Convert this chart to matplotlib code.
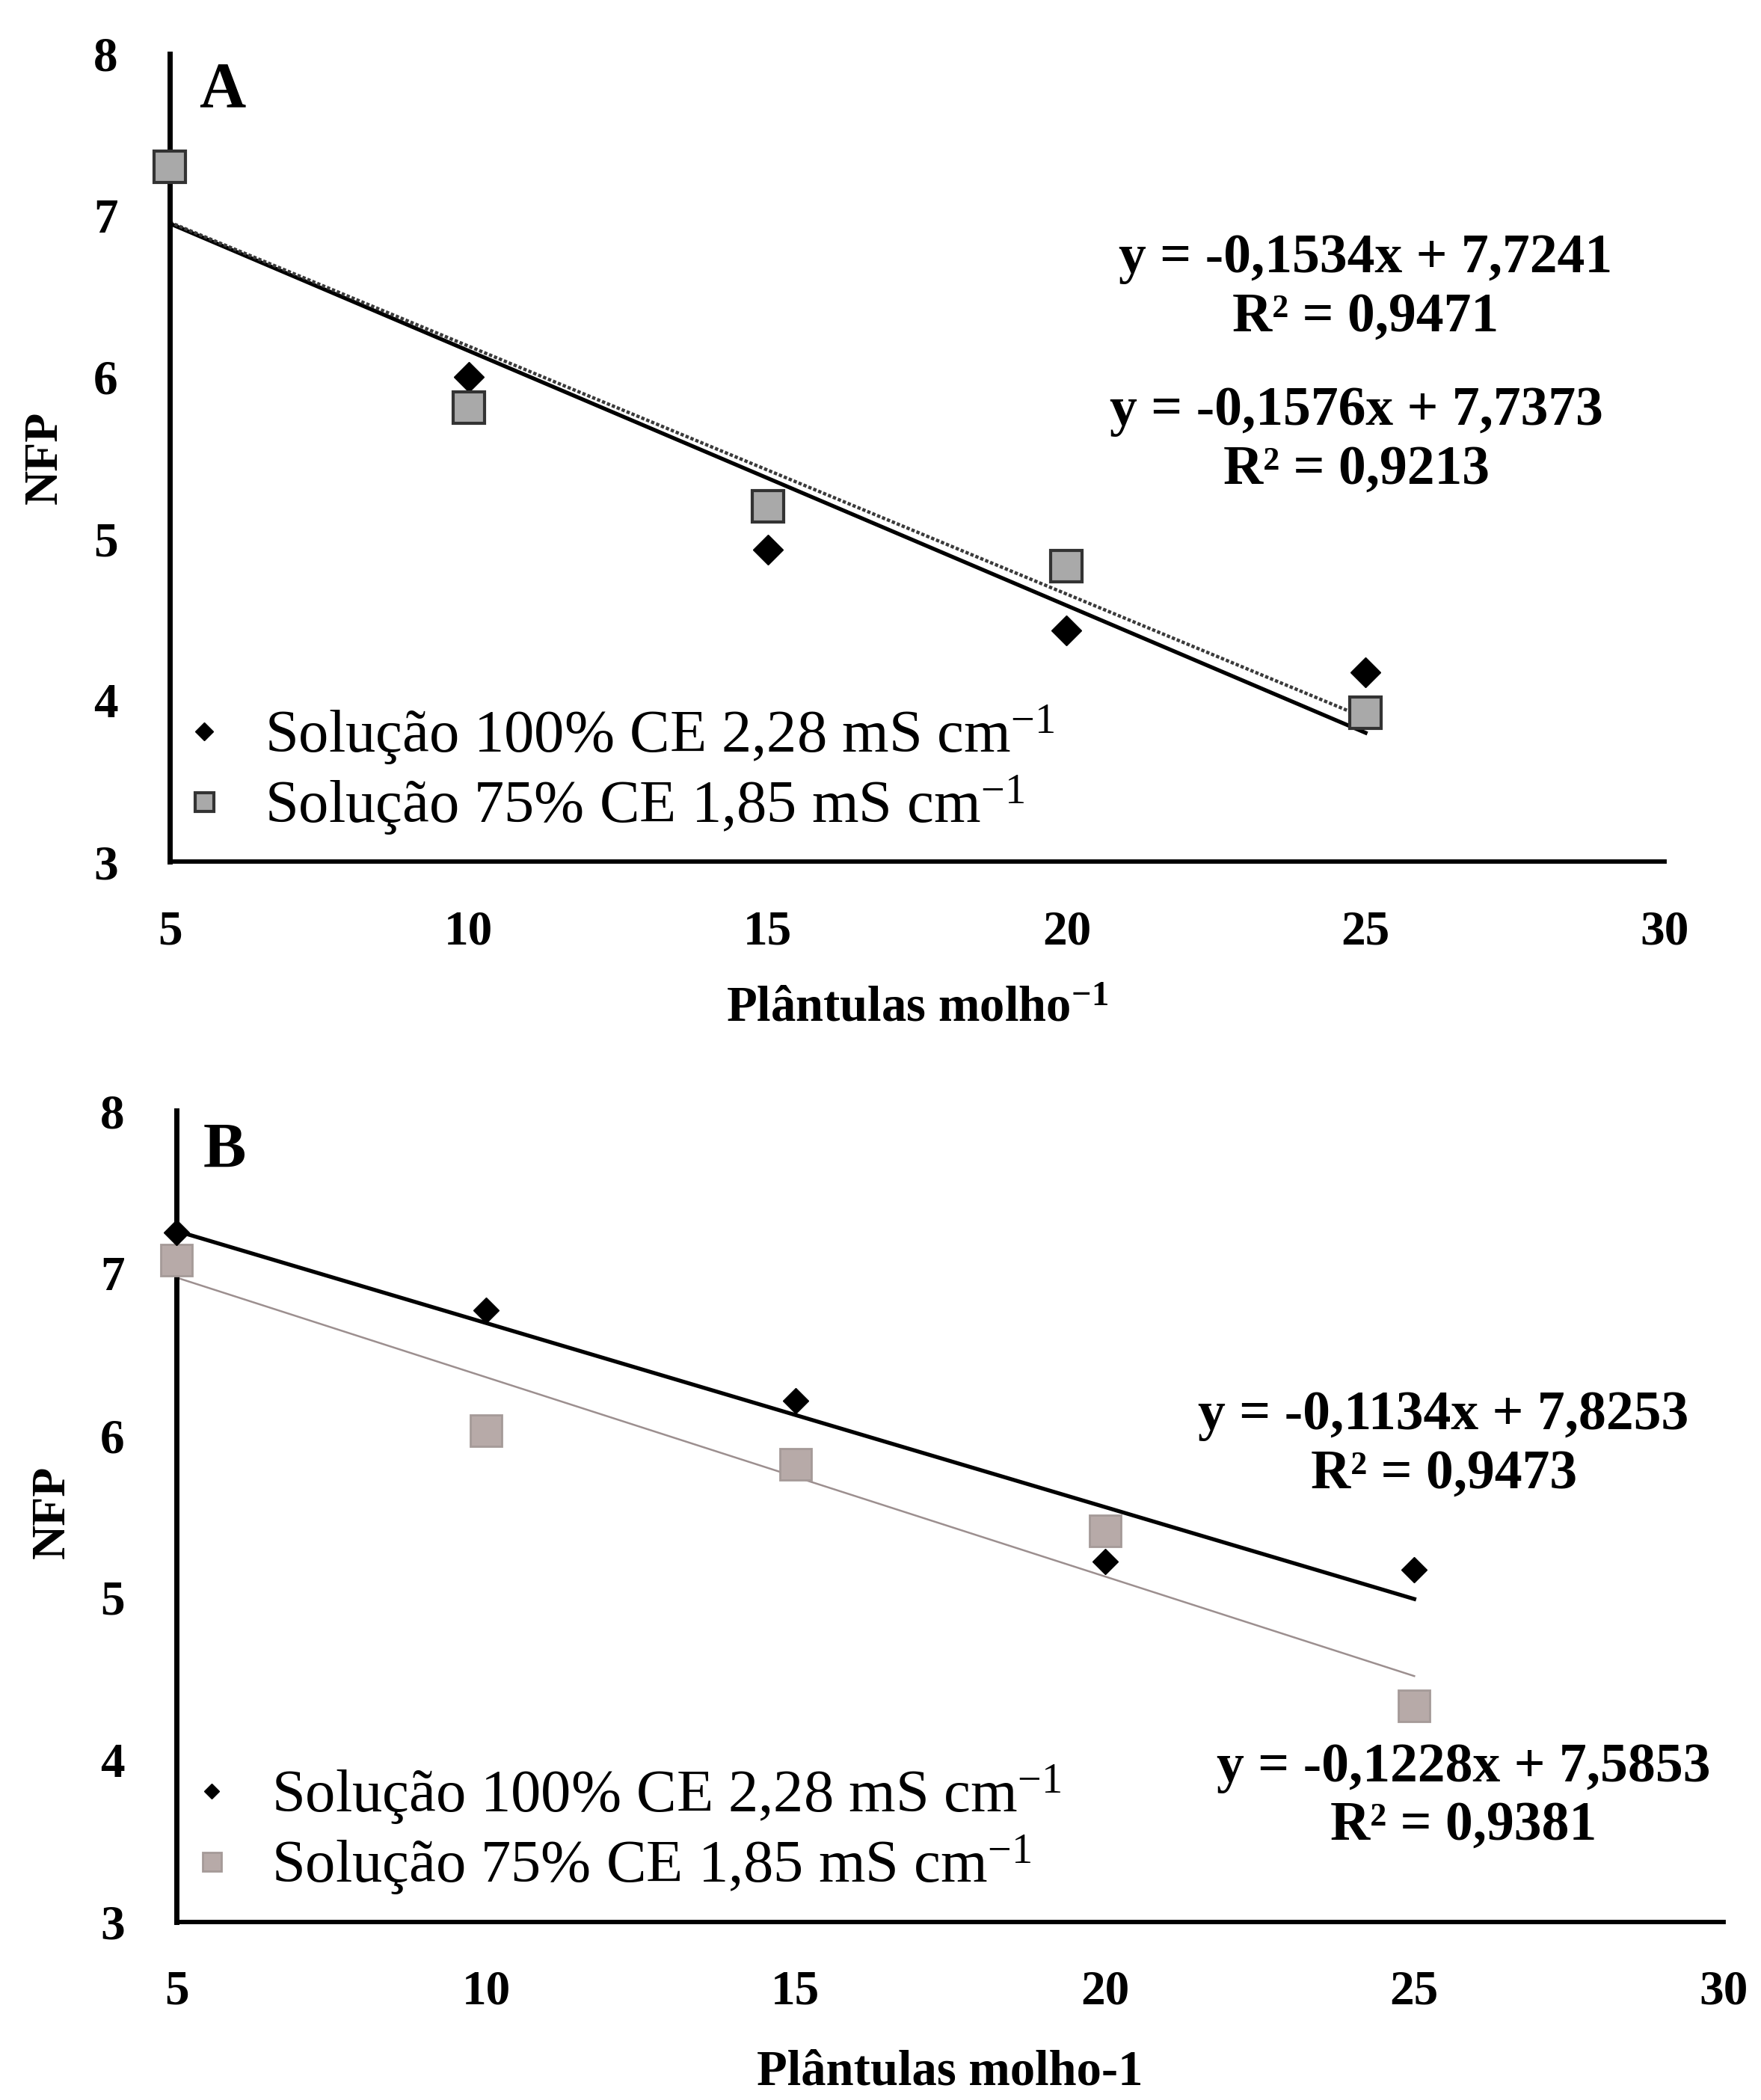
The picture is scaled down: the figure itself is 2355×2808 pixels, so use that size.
import numpy as np
import matplotlib
matplotlib.use("Agg")
import matplotlib.pyplot as plt

plt.rcParams['font.family'] = ['Liberation Serif', 'DejaVu Serif']
plt.rcParams['mathtext.fontset'] = 'custom'
plt.rcParams['mathtext.rm'] = 'Liberation Serif'
plt.rcParams['mathtext.bf'] = 'Liberation Serif:bold'

# dados
plantulas = [5, 10, 15, 20, 25]

# painel A
a_sol100 = [7.30, 6.00, 4.93, 4.43, 4.17]
a_sol75 = [7.30, 5.81, 5.20, 4.83, 3.92]
a_coef100 = (-0.1576, 7.7373)
a_coef75 = (-0.1534, 7.7241)
a_eq100 = "y = -0,1576x + 7,7373\nR² = 0,9213"
a_eq75 = "y = -0,1534x + 7,7241\nR² = 0,9471"

# painel B
b_sol100 = [7.25, 6.77, 6.21, 5.22, 5.17]
b_sol75 = [7.08, 6.03, 5.82, 5.41, 4.33]
b_coef100 = (-0.1134, 7.8253)
b_coef75 = (-0.1228, 7.5853)
b_eq100 = "y = -0,1134x + 7,8253\nR² = 0,9473"
b_eq75 = "y = -0,1228x + 7,5853\nR² = 0,9381"

lab100 = r"Solução 100% CE 2,28 mS cm$\mathregular{^{-1}}$"
lab75 = r"Solução 75% CE 1,85 mS cm$\mathregular{^{-1}}$"

xticks = [5, 10, 15, 20, 25, 30]
yticks = [3, 4, 5, 6, 7, 8]


def trend(coef, xs):
    xs = np.array(xs, dtype=float)
    return coef[0] * xs + coef[1]


def base_axes(ax):
    ax.set_xlim(5, 30)
    ax.set_ylim(3, 8)
    ax.set_xticks(xticks)
    ax.set_yticks(yticks)
    for s in ['top', 'right']:
        ax.spines[s].set_visible(False)
    ax.spines['left'].set_linewidth(5)
    ax.spines['bottom'].set_linewidth(4.2)
    ax.tick_params(axis='both', length=0, labelsize=47)
    ax.tick_params(axis='x', pad=46)
    ax.tick_params(axis='y', pad=50)
    for t in ax.get_xticklabels() + ax.get_yticklabels():
        t.set_fontweight('bold')
    ax.set_ylabel("NFP", fontsize=46, fontweight='bold')


fig = plt.figure(figsize=(23.55, 28.08), dpi=100)

# ---------- painel A ----------
axA = fig.add_axes([0.0964, 0.5897, 0.8488, 0.3847])
base_axes(axA)
xl = [5, 25]
axA.plot(xl, trend(a_coef100, xl), color='black', lw=3.8, zorder=2)
axA.plot(xl, trend(a_coef75, xl), color='#3a3a3a', lw=3.2,
         linestyle=(0, (1.0, 0.6)), zorder=2)
axA.plot(plantulas, a_sol100, linestyle='none', marker='D', ms=20,
         color='black', label=lab100, zorder=3, clip_on=False)
axA.plot(plantulas, a_sol75, linestyle='none', marker='s', ms=30,
         markerfacecolor='#a9a9a9', markeredgecolor='#333333', mew=3,
         label=lab75, zorder=4, clip_on=False)
axA.set_xlabel(r"Plântulas molho$\mathregular{^{-1}}$", fontsize=48,
               fontweight='bold')
axA.xaxis.set_label_coords(0.5, -0.154)
axA.yaxis.set_label_coords(-0.0685, 0.5)
axA.text(0.035, 0.954, "A", transform=axA.transAxes, fontsize=62,
         fontweight='bold', ha='center', va='center')
axA.text(0.800, 0.710, a_eq75, transform=axA.transAxes, fontsize=53,
         fontweight='bold', ha='center', va='center', linespacing=1.2)
axA.text(0.794, 0.521, a_eq100, transform=axA.transAxes, fontsize=53,
         fontweight='bold', ha='center', va='center', linespacing=1.2)
axA.legend(loc='lower left', bbox_to_anchor=(0.003, 0.03), frameon=False,
           fontsize=58, markerscale=0.6, handlelength=1.0,
           handletextpad=0.5, labelspacing=0.1, borderaxespad=0,
           borderpad=0)

# ---------- painel B ----------
axB = fig.add_axes([0.1003, 0.0848, 0.8785, 0.3863])
base_axes(axB)
axB.plot(xl, trend(b_coef100, xl), color='black', lw=3.8, zorder=2)
axB.plot(xl, trend(b_coef75, xl), color='#9c8f8f', lw=1.8, zorder=2)
axB.plot(plantulas, b_sol100, linestyle='none', marker='D', ms=17,
         color='black', label=lab100, zorder=4, clip_on=False)
axB.plot(plantulas, b_sol75, linestyle='none', marker='s', ms=30,
         markerfacecolor='#b7aaa8', markeredgecolor='#a59a98', mew=2,
         label=lab75, zorder=3, clip_on=False)
axB.set_xlabel("Plântulas molho-1", fontsize=48, fontweight='bold')
axB.xaxis.set_label_coords(0.5, -0.157)
axB.yaxis.set_label_coords(-0.066, 0.505)
axB.text(0.031, 0.949, "B", transform=axB.transAxes, fontsize=62,
         fontweight='bold', ha='center', va='center')
axB.text(0.819, 0.588, b_eq100, transform=axB.transAxes, fontsize=53,
         fontweight='bold', ha='center', va='center', linespacing=1.2)
axB.text(0.832, 0.154, b_eq75, transform=axB.transAxes, fontsize=53,
         fontweight='bold', ha='center', va='center', linespacing=1.2)
axB.legend(loc='lower left', bbox_to_anchor=(0.003, 0.03), frameon=False,
           fontsize=58, markerscale=0.6, handlelength=1.0,
           handletextpad=0.5, labelspacing=0.1, borderaxespad=0,
           borderpad=0)

fig.savefig("out.png", dpi=100)
